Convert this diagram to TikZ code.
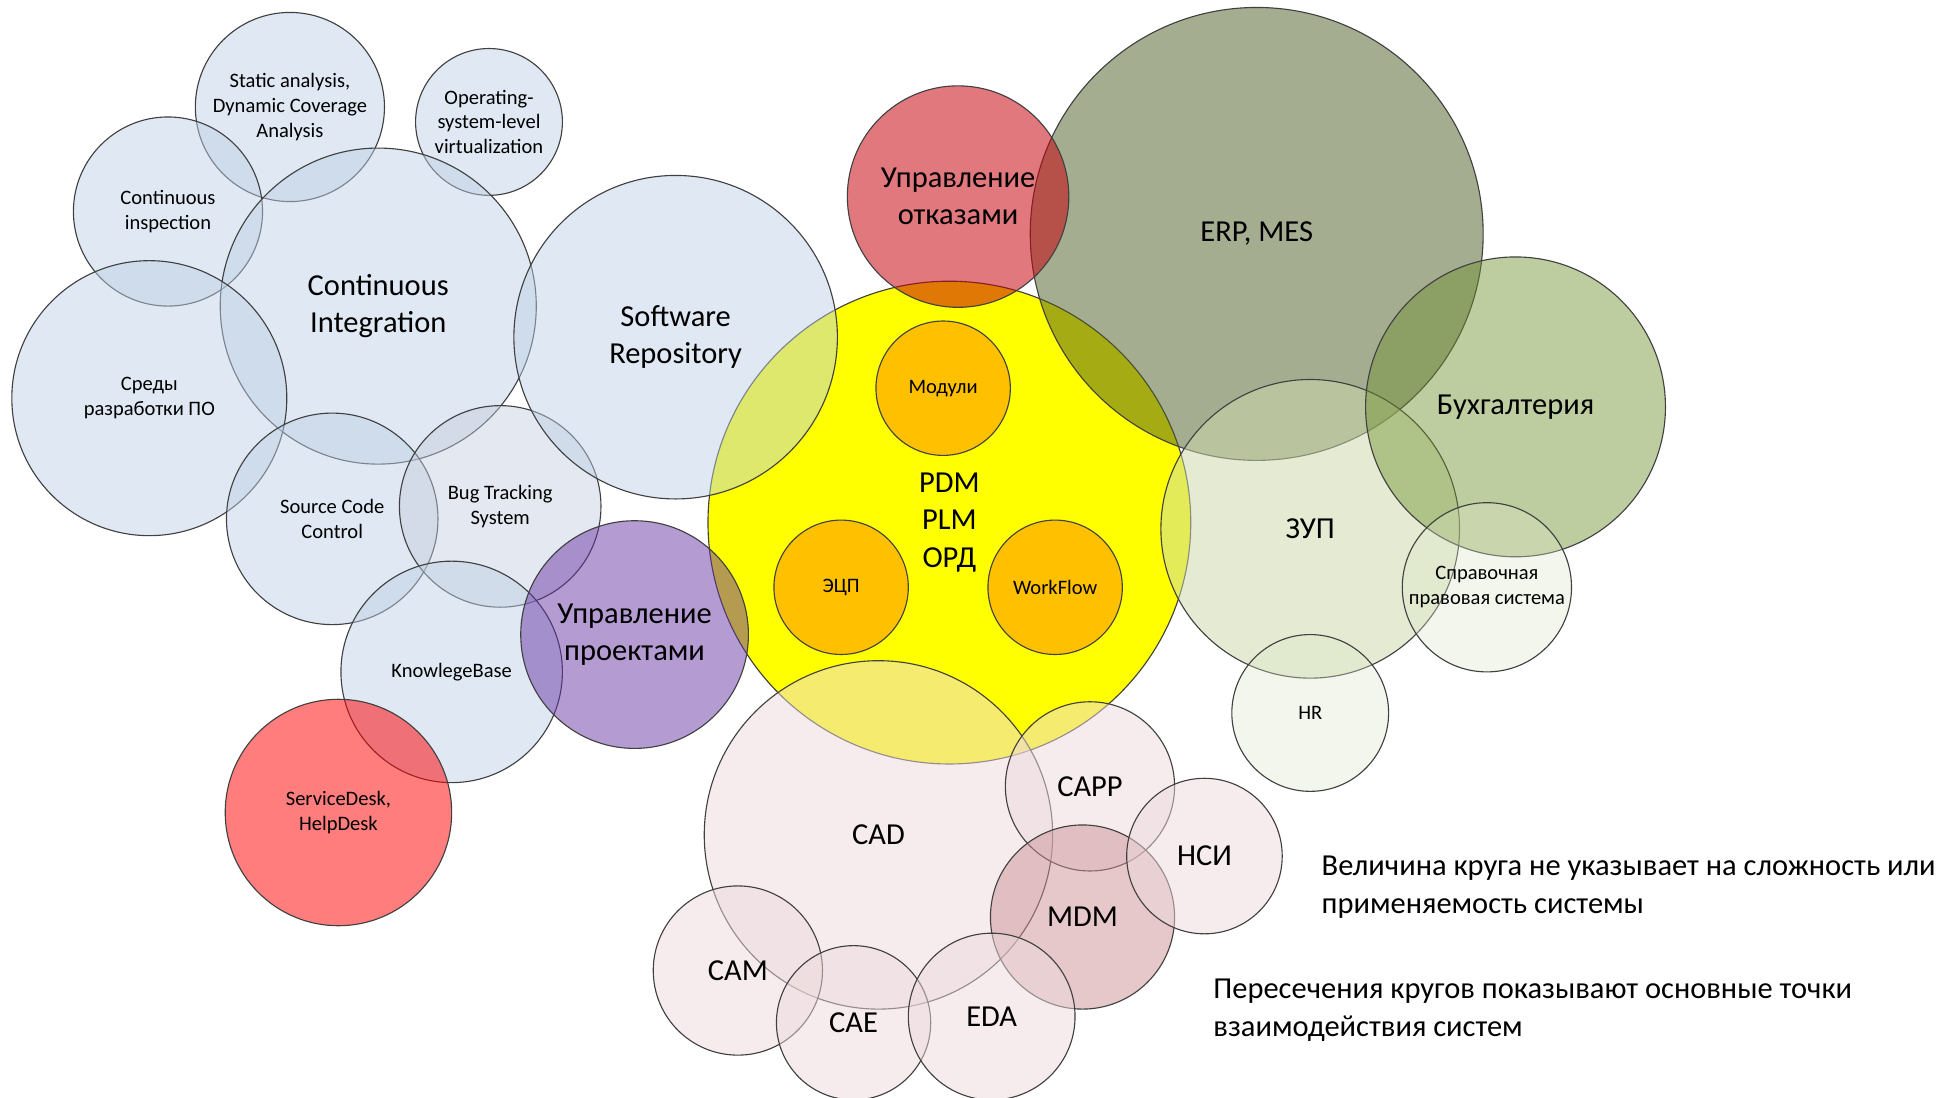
\documentclass[tikz,border=0pt]{standalone}
\usepackage{fontspec}
\setmainfont{Carlito}
\usepackage{xcolor}
\usepackage{tikz}
\definecolor{devblue}{RGB}{188,207,229}
\definecolor{buggray}{RGB}{196,205,222}
\definecolor{pdmyellow}{RGB}{255,255,0}
\definecolor{partorange}{RGB}{255,192,0}
\definecolor{failred}{RGB}{198,0,10}
\definecolor{projpurple}{RGB}{102,51,163}
\definecolor{deskred}{RGB}{255,0,0}
\definecolor{erpolive}{RGB}{79,94,39}
\definecolor{accgreen}{RGB}{111,144,44}
\definecolor{payrollgreen}{RGB}{204,217,169}
\definecolor{refgreen}{RGB}{220,230,200}
\definecolor{cadpink}{RGB}{237,217,220}
\definecolor{mdmpink}{RGB}{205,145,150}
\tikzset{
    bubble/.style={circle, draw=black!75, line width=0.9pt, minimum size=#1, inner sep=0pt, align=center, text opacity=1, text=black},
    bigtext/.style={font=\fontsize{24.5}{30}\selectfont},
    smalltext/.style={font=\fontsize{16.5}{20}\selectfont},
    notetext/.style={font=\fontsize{24.5}{30}\selectfont, align=left, anchor=west, inner sep=0pt, text=black},
    devtool/.style={fill=devblue, fill opacity=0.48},
    bugtool/.style={fill=buggray, fill opacity=0.45},
    pdmcore/.style={fill=pdmyellow},
    pdmpart/.style={fill=partorange},
    failmgmt/.style={fill=failred, fill opacity=0.53},
    projmgmt/.style={fill=projpurple, fill opacity=0.49},
    helpdesk/.style={fill=deskred, fill opacity=0.51},
    erpmes/.style={fill=erpolive, fill opacity=0.51},
    accounting/.style={fill=accgreen, fill opacity=0.45},
    payroll/.style={fill=payrollgreen, fill opacity=0.52},
    legalref/.style={fill=refgreen, fill opacity=0.35},
    cadtool/.style={fill=cadpink, fill opacity=0.5},
    mdmtool/.style={fill=mdmpink, fill opacity=0.5}
}
\begin{document}
\begin{tikzpicture}[x=1pt, y=-1pt]
    \useasboundingbox (0,0) rectangle (1568,882);
    % development tools
    \node[bubble=152pt, devtool, smalltext] (static) at (233,86) {Static analysis,\\Dynamic Coverage\\Analysis};
    \node[bubble=118pt, devtool, smalltext] (osvirt) at (393,98) {Operating-\\system-level\\virtualization};
    \node[bubble=152pt, devtool, smalltext] (inspect) at (135,170) {Continuous\\inspection};
    \node[bubble=254pt, devtool, bigtext] (ci) at (304,246) {Continuous\\Integration};
    \node[bubble=221pt, devtool, smalltext] (ide) at (120,320) {Среды\\разработки ПО};
    \node[bubble=170pt, devtool, smalltext] (scc) at (267,417) {Source Code\\Control};
    \node[bubble=162pt, bugtool, smalltext] (bugs) at (402,407) {Bug Tracking\\System};
    \node[bubble=178pt, devtool, smalltext] (kbase) at (363,540) {KnowlegeBase};
    \node[bubble=182pt, helpdesk, smalltext] (desk) at (272,653) {ServiceDesk,\\HelpDesk};
    % PDM core
    \node[bubble=388pt, pdmcore, bigtext] (pdm) at (763,420) {PDM\\PLM\\ОРД};
    \node[bubble=108pt, pdmpart, smalltext] (modules) at (758,312) {Модули};
    \node[bubble=108pt, pdmpart, smalltext] (esign) at (676,472) {ЭЦП};
    \node[bubble=108pt, pdmpart, smalltext] (workflow) at (848,472) {WorkFlow};
    \node[bubble=260pt, devtool, bigtext] (repo) at (543,271) {Software\\Repository};
    \node[bubble=183pt, projmgmt, bigtext] (projects) at (510,510) {Управление\\проектами};
    % enterprise side
    \node[bubble=364pt, erpmes, bigtext] (erp) at (1010,188) {ERP, MES};
    \node[bubble=178pt, failmgmt, bigtext] (failures) at (770,158) {Управление\\отказами};
    \node[bubble=240pt, payroll, bigtext] (zup) at (1053,425) {ЗУП};
    \node[bubble=241pt, accounting, bigtext] (buh) at (1218,327) {Бухгалтерия};
    \node[bubble=136pt, legalref, smalltext] (legal) at (1195,472) {Справочная\\правовая система};
    \node[bubble=126pt, legalref, smalltext] (hr) at (1053,573) {HR};
    % engineering tools
    \node[bubble=280pt, cadtool, bigtext] (cad) at (706,671) {CAD};
    \node[bubble=136pt, cadtool, bigtext] (capp) at (876,632) {CAPP};
    \node[bubble=148pt, mdmtool, bigtext] (mdm) at (870,737) {MDM};
    \node[bubble=125pt, cadtool, bigtext] (nsi) at (968,688) {НСИ};
    \node[bubble=136pt, cadtool, bigtext] (cam) at (593,780) {CAM};
    \node[bubble=124pt, cadtool, bigtext] (cae) at (686,822) {CAE};
    \node[bubble=134pt, cadtool, bigtext] (eda) at (797,817) {EDA};
    % notes
    \node[notetext] (sizenote) at (1062,713) {Величина круга не указывает на сложность или\\применяемость системы};
    \node[notetext] (crossnote) at (975,812) {Пересечения кругов показывают основные точки\\взаимодействия систем};
\end{tikzpicture}
\end{document}
